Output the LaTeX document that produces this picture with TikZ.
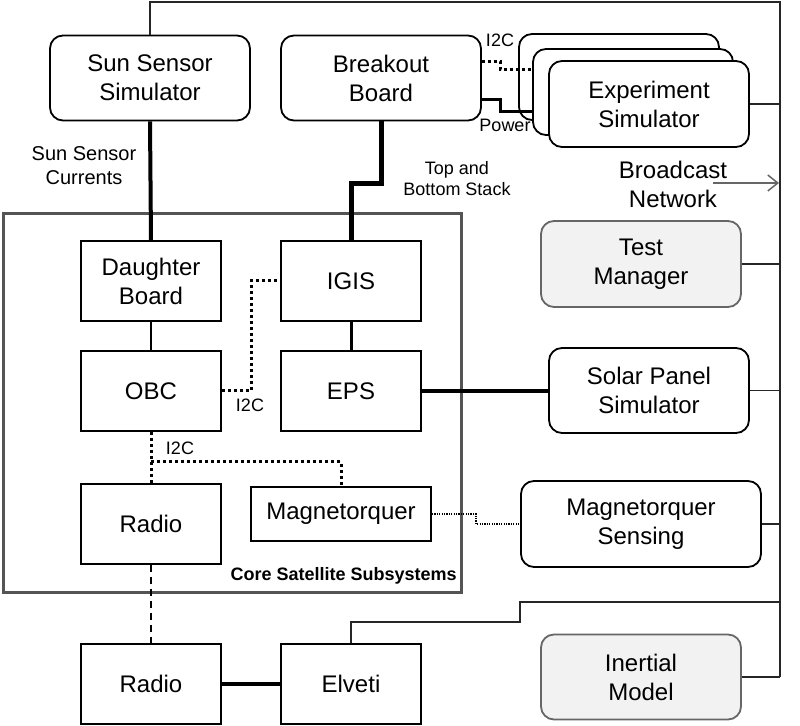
\documentclass[tikz,border=0pt]{standalone}
\usepackage{fontspec}
\setmainfont{Liberation Sans}
\usetikzlibrary{arrows.meta}

\tikzset{
	sim/.style={draw, rounded corners=6.5pt, line width=0.9pt, fill=white, align=center,
		minimum width=100pt, minimum height=42.5pt, inner sep=0pt,
		font=\fontsize{12}{14.5}\selectfont},
	model/.style={sim, draw=black!60, fill=black!5},
	unit/.style={draw, line width=1pt, align=center, minimum width=70pt, minimum height=40pt,
		inner sep=0pt, font=\fontsize{12}{14.5}\selectfont},
	lbl/.style={align=center, inner sep=0pt, font=\fontsize{9}{10.5}\selectfont},
	bus/.style={line width=0.75pt, black!85},
	i2c/.style={line width=1.5pt, dash pattern=on 1.5pt off 1.5pt},
	sense/.style={line width=0.6pt, dash pattern=on 0.6pt off 0.6pt},
	link/.style={line width=0.7pt, dash pattern=on 3.5pt off 2.5pt}
}

\begin{document}
\begin{tikzpicture}[x=0.5pt, y=-0.5pt]
		\useasboundingbox (0,0) rectangle (800,726);
		% core satellite frame
		\node [draw=black!67, line width=1.5pt, minimum width=229pt, minimum height=189.5pt, inner sep=0pt]
		(core) at (232,403.5) {};
		\node [anchor=east, inner sep=0pt, font=\fontsize{9}{10.5}\selectfont\bfseries] (corelbl) at (457,576) {Core Satellite Subsystems};

		% simulators
		\node [sim] (sun) at (150,78) {Sun Sensor\\Simulator};
		\node [sim] (breakout) at (381,78) {Breakout\\Board};
		\node [sim, minimum height=43pt] (expb) at (619,77) {};
		\node [sim, minimum height=43pt] (expm) at (633,92) {};
		\node [sim, minimum height=43pt] (exp) at (649,104) {Experiment\\Simulator};
		\node [model, minimum height=43pt] (test) at (641,264) {Test\\Manager};
		\node [sim] (solar) at (649,390.5) {Solar Panel\\Simulator};
		\node [sim, minimum width=120pt, minimum height=43pt] (mtqs) at (641,524) {Magnetorquer\\Sensing};
		\node [model] (inertial) at (641,677) {Inertial\\Model};

		% subsystems
		\node [unit] (daughter) at (151,281) {Daughter\\Board};
		\node [unit] (igis) at (351,281) {IGIS};
		\node [unit] (obc) at (151,391) {OBC};
		\node [unit] (eps) at (351,391) {EPS};
		\node [unit] (radio) at (151,524) {Radio};
		\node [unit, minimum width=90pt, minimum height=27pt] (mtq) at (341,514) {Magnetorquer};
		\node [unit] (ground) at (151,684) {Radio};
		\node [unit] (elveti) at (351,684) {Elveti};

		% broadcast network
		\coordinate (bustop) at (780,2);
		\coordinate (busend) at (780,677);
		\coordinate (split) at (151,462);
		\node [align=center, inner sep=0pt, font=\fontsize{12}{14.5}\selectfont] (net) at (673,184) {Broadcast\\Network};
		\coordinate (cast) at (713,183);
		\coordinate (castend) at (779,183);
		\draw [bus] (sun.north) |- (bustop) -- (busend);
		\draw [bus] (exp.east) -- (exp.east -| bustop);
		\draw [bus] (test.east) -- (test.east -| bustop);
		\draw [bus] (solar.east) -- (solar.east -| bustop);
		\draw [bus] (mtqs.east) -- (mtqs.east -| bustop);
		\draw [bus] (inertial.east) -- (busend);
		\draw [bus] (elveti.north) -- ++(0,-21) -| (520,602) -- (bustop |- 520,602);
		\draw [black!60, line width=0.75pt, -{Straight Barb[length=5pt, width=8pt]}] (cast) -- (castend);

		% links
		\draw [line width=2pt] (sun.south) -- (daughter.north);
		\node [lbl, font=\fontsize{10}{12}\selectfont] (currents) at (84,166) {Sun Sensor\\Currents};
		\draw [line width=2.5pt] (breakout.south) -- ++(0,62) -| (igis.north);
		\node [lbl] (stack) at (457,179) {Top and\\Bottom Stack};
		\draw [i2c] ([yshift=8pt]breakout.east) -- ++(19,0) |- ([yshift=11pt]expm.west);
		\node [lbl] (i2ctop) at (500,40) {I2C};
		\draw [line width=1.5pt] ([yshift=-11pt]breakout.east) -- ++(19,0) |- ([yshift=-10pt]expm.west);
		\node [lbl] (power) at (505,125) {Power};
		\draw [line width=0.75pt] (daughter.south) -- (obc.north);
		\draw [line width=1.5pt] (igis.south) -- (eps.north);
		\draw [i2c] (obc.east) -- ++(29,0) |- (igis.west);
		\node [lbl] (i2cigis) at (250,405) {I2C};
		\draw [i2c] (obc.south) -- (radio.north);
		\draw [i2c] (split) -| (mtq.north);
		\node [lbl] (i2cradio) at (180,448) {I2C};
		\draw [line width=1.75pt] (eps.east) -- (eps.east -| solar.west);
		\draw [sense] (mtq.east) -- ++(44,0) |- (mtqs.west);
		\draw [link] (radio.south) -- (ground.north);
		\draw [line width=2pt] (ground.east) -- (elveti.west);
	\end{tikzpicture}
\end{document}
